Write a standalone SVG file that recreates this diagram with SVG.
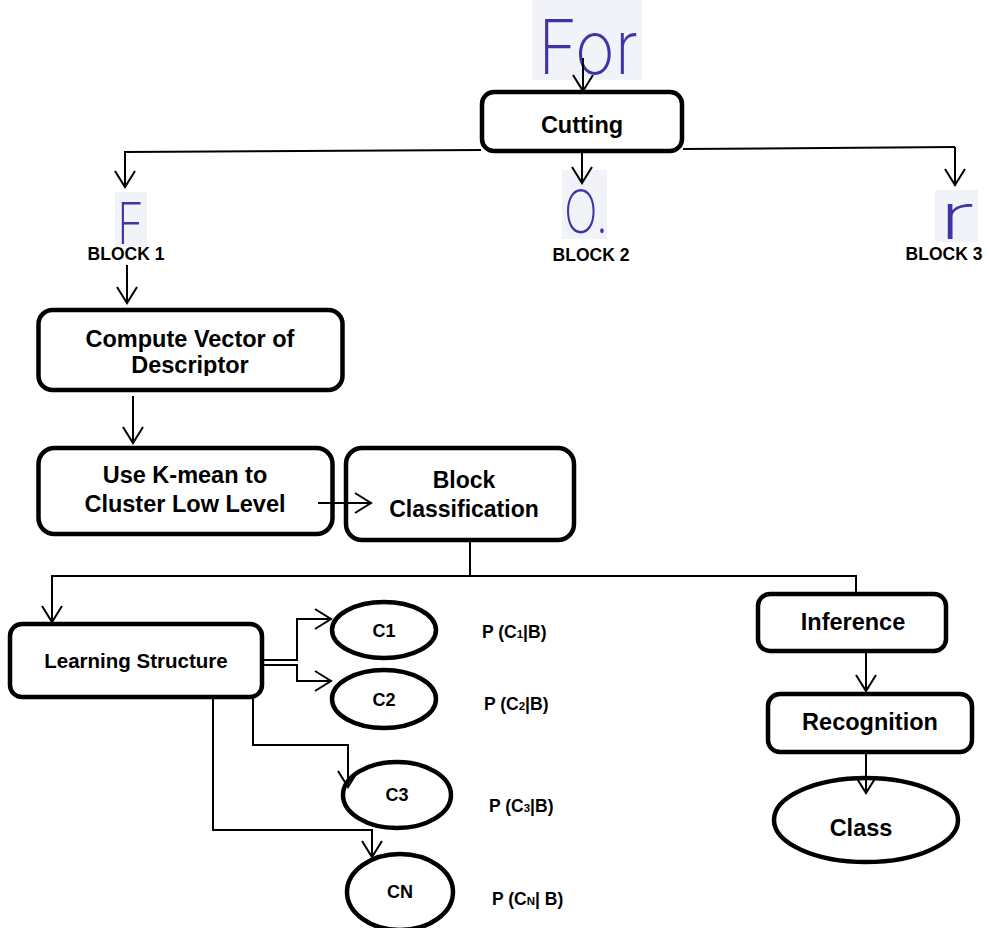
<svg xmlns="http://www.w3.org/2000/svg" width="989" height="928" viewBox="0 0 989 928">
<style>
.box{fill:#fff;stroke:#000;stroke-width:4.5}
.ell{fill:#fff;stroke:#000;stroke-width:4.5}
.t{font-family:"Liberation Sans",Arial,sans-serif;font-weight:bold;fill:#000;text-anchor:middle}
.lbl{font-family:"Liberation Sans",Arial,sans-serif;font-weight:bold;fill:#000;font-size:17.5px;text-anchor:middle}
.p{font-family:"Liberation Sans",Arial,sans-serif;font-weight:bold;fill:#000;font-size:17.5px}
.hw{font-family:Inter,Roboto,"Noto Sans",sans-serif;font-weight:200;fill:#3f33a8}
.hbg{fill:#f2f3f9}
.c{fill:none;stroke:#000;stroke-width:2}
</style>
<defs>
<marker id="arr" markerUnits="userSpaceOnUse" markerWidth="20" markerHeight="24" viewBox="-17 -12 20 24" refX="0" refY="0" orient="auto">
<path d="M-16,-10 L0,0 L-16,10" fill="none" stroke="#000" stroke-width="2"/>
</marker>
<clipPath id="clipDesc"><rect x="40" y="312" width="300" height="64"/></clipPath>
</defs>

<g id="input-for">
<rect class="hbg" x="532" y="0" width="110" height="80"/>
<text class="hw" x="538" y="74" font-size="75" textLength="100" lengthAdjust="spacingAndGlyphs">For</text>
</g>

<g id="cutting">
<rect class="box" x="482" y="92" width="200" height="59" rx="12"/>
<text class="t" x="582" y="133" font-size="23.5">Cutting</text>
</g>

<g id="block1">
<rect class="hbg" x="115" y="192" width="32" height="55"/>
<text class="hw" x="117" y="244" font-size="58" textLength="27" lengthAdjust="spacingAndGlyphs">F</text>
<text class="lbl" x="126" y="260">BLOCK 1</text>
</g>

<g id="block2">
<rect class="hbg" x="562" y="170" width="45" height="69"/>
<text class="hw" x="564" y="233" font-size="60" textLength="44" lengthAdjust="spacingAndGlyphs">O.</text>
<text class="lbl" x="591" y="261">BLOCK 2</text>
</g>

<g id="block3">
<rect class="hbg" x="935" y="190" width="43" height="52"/>
<text class="hw" x="938" y="239" font-size="64" textLength="37" lengthAdjust="spacingAndGlyphs">r</text>
<text class="lbl" x="944" y="260">BLOCK 3</text>
</g>

<g id="compute-vector">
<rect class="box" x="38.5" y="310" width="304" height="80" rx="14"/>
<text class="t" x="190" y="347" font-size="23.5">Compute Vector of</text>
<text class="t" x="190" y="373" font-size="23.5" clip-path="url(#clipDesc)">Descriptor</text>
</g>

<g id="kmean">
<rect class="box" x="38.5" y="448" width="294" height="86" rx="16"/>
<text class="t" x="185" y="483" font-size="23.5">Use K-mean to</text>
<text class="t" x="185" y="512" font-size="23.5">Cluster Low Level</text>
</g>

<g id="block-classification">
<rect class="box" x="346" y="448" width="228" height="92" rx="16"/>
<text class="t" x="464" y="488" font-size="23">Block</text>
<text class="t" x="464" y="517" font-size="23">Classification</text>
</g>

<g id="learning-structure">
<rect class="box" x="10" y="624" width="252" height="73" rx="12"/>
<text class="t" x="136" y="668" font-size="20.5">Learning Structure</text>
</g>

<g id="c1">
<ellipse class="ell" cx="384" cy="630" rx="52" ry="28"/>
<text class="t" x="384" y="637" font-size="18">C1</text>
</g>
<g id="c2">
<ellipse class="ell" cx="384" cy="699" rx="52" ry="29"/>
<text class="t" x="384" y="706" font-size="18">C2</text>
</g>
<g id="c3">
<ellipse class="ell" cx="397" cy="795" rx="54" ry="33"/>
<text class="t" x="397" y="801" font-size="18">C3</text>
</g>
<g id="cn">
<ellipse class="ell" cx="400" cy="892" rx="53" ry="38"/>
<text class="t" x="400" y="898" font-size="18">CN</text>
</g>

<g id="p-labels">
<text class="p" x="482" y="638">P (C<tspan font-size="11.5">1</tspan>|B)</text>
<text class="p" x="484" y="710">P (C<tspan font-size="11.5">2</tspan>|B)</text>
<text class="p" x="489" y="812">P (C<tspan font-size="11.5">3</tspan>|B)</text>
<text class="p" x="492" y="905">P (C<tspan font-size="11.5">N</tspan>| B)</text>
</g>

<g id="inference">
<rect class="box" x="758" y="594" width="188" height="57" rx="12"/>
<text class="t" x="853" y="630" font-size="23.5">Inference</text>
</g>

<g id="recognition">
<rect class="box" x="768" y="694" width="204" height="58" rx="12"/>
<text class="t" x="870" y="730" font-size="23.5">Recognition</text>
</g>

<g id="class">
<ellipse class="ell" cx="866" cy="820" rx="92" ry="42"/>
<text class="t" x="861" y="836" font-size="23.5">Class</text>
</g>

<g id="connectors">
<line class="c" x1="583" y1="58" x2="583" y2="91" marker-end="url(#arr)"/>
<line class="c" x1="125" y1="152" x2="481" y2="150"/>
<line class="c" x1="683" y1="149" x2="955" y2="147"/>
<line class="c" x1="125" y1="151" x2="125" y2="187" marker-end="url(#arr)"/>
<line class="c" x1="955" y1="147" x2="955" y2="185" marker-end="url(#arr)"/>
<line class="c" x1="582" y1="153" x2="582" y2="183" marker-end="url(#arr)"/>
<line class="c" x1="127" y1="265" x2="127" y2="303" marker-end="url(#arr)"/>
<line class="c" x1="133" y1="396" x2="133" y2="443" marker-end="url(#arr)"/>
<line class="c" x1="318" y1="503" x2="371" y2="503" marker-end="url(#arr)"/>
<polyline class="c" points="470,542 470,576"/>
<polyline class="c" points="856,592 856,576 52,576 52,622" marker-end="url(#arr)"/>
<line class="c" x1="866" y1="653" x2="866" y2="691" marker-end="url(#arr)"/>
<line class="c" x1="866" y1="754" x2="866" y2="793" marker-end="url(#arr)"/>
<polyline class="c" points="264,660 297,660 297,619 331,619" marker-end="url(#arr)"/>
<polyline class="c" points="264,665 297,665 297,681 331,681" marker-end="url(#arr)"/>
<polyline class="c" points="253,699 253,745 348,745 348,787" marker-end="url(#arr)"/>
<polyline class="c" points="213,699 213,830 372,830 372,857" marker-end="url(#arr)"/>
</g>
</svg>
